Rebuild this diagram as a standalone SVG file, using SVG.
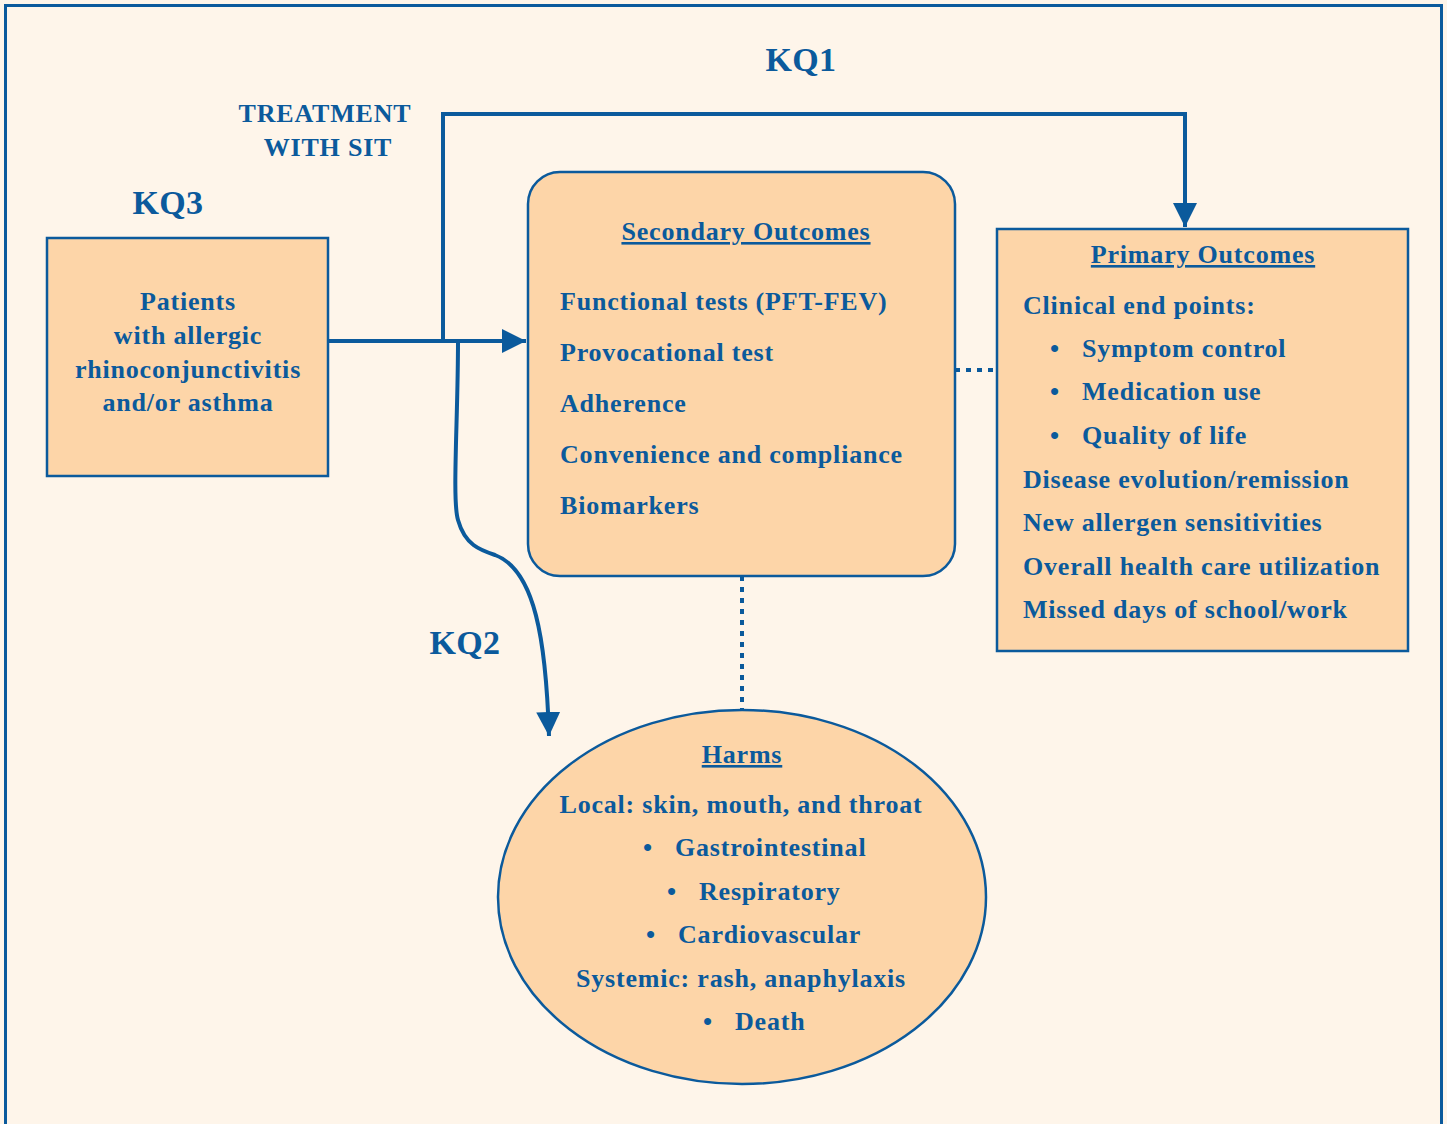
<svg xmlns="http://www.w3.org/2000/svg" width="1447" height="1124" viewBox="0 0 1447 1124">
<style>
.t{font-family:"Liberation Serif","Times New Roman",serif;font-weight:bold;fill:#0B5A9C;font-size:26px;letter-spacing:0.8px}
.kq{font-size:34px;letter-spacing:0.3px}
.u{text-decoration:underline}
.box{fill:#FDD5A8;stroke:#0B5A9C;stroke-width:2.5}
.ln{fill:none;stroke:#0B5A9C;stroke-width:4}
.dot{fill:none;stroke:#0B5A9C;stroke-width:4;stroke-dasharray:5 6}
</style>
<defs>
<marker id="ah" viewBox="0 0 10 10" refX="10" refY="5" markerWidth="6" markerHeight="6" orient="auto" markerUnits="strokeWidth">
<path d="M0,0 L10,5 L0,10 z" fill="#0B5A9C"/>
</marker>
</defs>
<rect x="0" y="0" width="1447" height="1124" fill="#FEF5EA"/>
<rect x="5.5" y="5.5" width="1436" height="1140" fill="none" stroke="#0B5A9C" stroke-width="3"/>

<g id="connectors">
<path class="ln" d="M328,341 H526" marker-end="url(#ah)"/>
<path class="ln" d="M443,341 V114 H1185 V227" marker-end="url(#ah)"/>
<path class="ln" d="M458,341 C458,420 452,500 458,520 C465,545 480,550 495,555 C535,570 546,640 549,736" marker-end="url(#ah)"/>
<path class="dot" d="M955,370 H997"/>
<path class="dot" d="M742,576 V710"/>
</g>

<g id="labels">
<text class="t kq" x="801" y="71" text-anchor="middle">KQ1</text>
<text class="t" x="325" y="122" text-anchor="middle">TREATMENT</text>
<text class="t" x="328" y="156" text-anchor="middle">WITH SIT</text>
<text class="t kq" x="168" y="214" text-anchor="middle">KQ3</text>
<text class="t kq" x="465" y="654" text-anchor="middle">KQ2</text>
</g>

<g id="patients">
<rect class="box" x="47" y="238" width="281" height="238"/>
<text class="t" x="188" y="310" text-anchor="middle">Patients</text>
<text class="t" x="188" y="344" text-anchor="middle">with allergic</text>
<text class="t" x="188" y="378" text-anchor="middle">rhinoconjunctivitis</text>
<text class="t" x="188" y="411" text-anchor="middle">and/or asthma</text>
</g>

<g id="secondary">
<rect class="box" x="528" y="172" width="427" height="404" rx="32"/>
<text class="t u" x="746" y="240" text-anchor="middle">Secondary Outcomes</text>
<text class="t" x="560" y="310">Functional tests (PFT-FEV)</text>
<text class="t" x="560" y="361">Provocational test</text>
<text class="t" x="560" y="412">Adherence</text>
<text class="t" x="560" y="463">Convenience and compliance</text>
<text class="t" x="560" y="514">Biomarkers</text>
</g>

<g id="primary">
<rect class="box" x="997" y="229" width="411" height="422"/>
<text class="t u" x="1203" y="263" text-anchor="middle">Primary Outcomes</text>
<text class="t" x="1023" y="314">Clinical end points:</text>
<text class="t" x="1050" y="357">•</text><text class="t" x="1082" y="357">Symptom control</text>
<text class="t" x="1050" y="400">•</text><text class="t" x="1082" y="400">Medication use</text>
<text class="t" x="1050" y="444">•</text><text class="t" x="1082" y="444">Quality of life</text>
<text class="t" x="1023" y="488">Disease evolution/remission</text>
<text class="t" x="1023" y="531">New allergen sensitivities</text>
<text class="t" x="1023" y="575">Overall health care utilization</text>
<text class="t" x="1023" y="618">Missed days of school/work</text>
</g>

<g id="harms">
<ellipse class="box" cx="742" cy="897" rx="244" ry="187"/>
<text class="t u" x="742" y="763" text-anchor="middle">Harms</text>
<text class="t" x="741" y="813" text-anchor="middle">Local: skin, mouth, and throat</text>
<text class="t" x="643" y="856">•</text><text class="t" x="675" y="856">Gastrointestinal</text>
<text class="t" x="667" y="900">•</text><text class="t" x="699" y="900">Respiratory</text>
<text class="t" x="646" y="943">•</text><text class="t" x="678" y="943">Cardiovascular</text>
<text class="t" x="741" y="987" text-anchor="middle">Systemic: rash, anaphylaxis</text>
<text class="t" x="703" y="1030">•</text><text class="t" x="735" y="1030">Death</text>
</g>
</svg>
